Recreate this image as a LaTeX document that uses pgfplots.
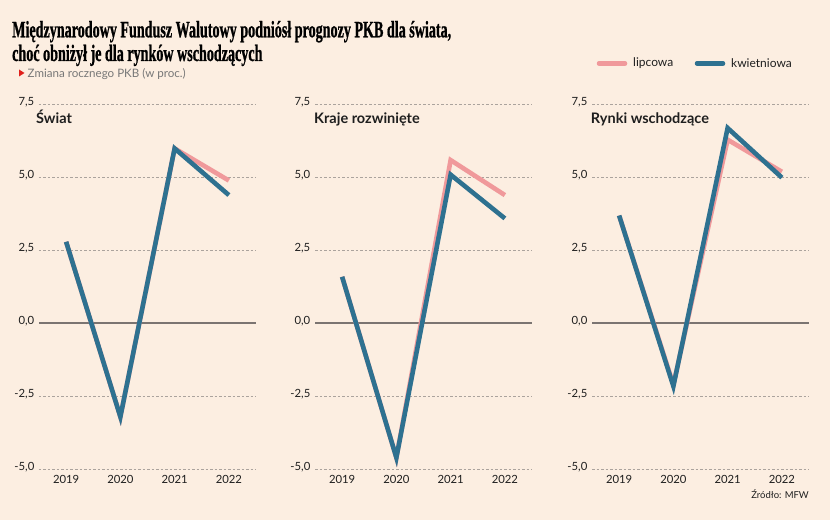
\documentclass[border=0pt]{standalone}
\usepackage{fontspec}
\setmainfont{Lato}
\newfontfamily\titlefont[FakeStretch=0.6, BoldFeatures={FakeBold=0.8}]{Liberation Serif}
\usepackage{pgfplots}
\pgfplotsset{compat=1.18}
\definecolor{bg}{HTML}{FCEEE1}
\definecolor{bluec}{HTML}{2E7190}
\definecolor{pinkc}{HTML}{F0999B}
\definecolor{zeroc}{HTML}{7B7471}
\definecolor{gridc}{HTML}{ABA39D}
\definecolor{txt}{HTML}{1E1E1E}
\definecolor{subc}{HTML}{777777}
\definecolor{tri}{HTML}{E0201B}
\pgfplotsset{panel/.style={
  scale only axis, width=217pt, height=364.6pt,
  anchor=south west,
  xmin=2018.5, xmax=2022.5, ymin=-5, ymax=7.5,
  xtick={2019,2020,2021,2022}, xticklabels={2019,2020,2021,2022},
  ytick={-5,-2.5,2.5,5,7.5}, extra y ticks={0},
  yticklabel={\pgfmathprintnumber[fixed,fixed zerofill,precision=1,use comma,assume math mode=true]{\tick}},
  axis line style={draw=none}, major tick length=0pt,
  ymajorgrids, grid style={gridc, line width=0.6pt, dash pattern=on 2.5pt off 2pt},
  extra y tick style={grid style={solid, zeroc, line width=2pt}},
  ticklabel style={font=\fontsize{11.3}{12}\selectfont, text=txt},
  xticklabel style={inner sep=0pt, yshift=-5.5pt},
  yticklabel style={inner sep=0pt, xshift=-4.5pt, yshift=2pt},
  clip=false,
  every axis plot/.append style={line width=4.6pt, line join=miter, mark=none},
}}
\begin{document}
\begin{tikzpicture}
\fill[bg] (0pt,0pt) rectangle (830pt,520pt);
% titles
\node[anchor=base west, inner sep=0pt, text=black, font=\titlefont\bfseries\fontsize{23.5}{24}\selectfont] at (12pt,482.7pt) {Międzynarodowy Fundusz Walutowy podniósł prognozy PKB dla świata,};
\node[anchor=base west, inner sep=0pt, text=black, font=\titlefont\bfseries\fontsize{23.5}{24}\selectfont] at (12pt,459pt) {choć obniżył je dla rynków wschodzących};
\fill[tri] (19pt,450.5pt) -- (24.5pt,447pt) -- (19pt,443.5pt) -- cycle;
\node[anchor=base west, inner sep=0pt, text=subc, font=\fontsize{11.6}{13}\selectfont] at (27.5pt,442pt) {Zmiana rocznego PKB (w proc.)};
% legend
\draw[pinkc, line width=4.5pt, line cap=round] (599pt,456.5pt) -- (625pt,456.5pt);
\node[anchor=west, inner sep=0pt, text=txt, font=\fontsize{12}{13}\selectfont] at (633pt,456.5pt) {lipcowa};
\draw[bluec, line width=4.5pt, line cap=round] (697pt,456.5pt) -- (723pt,456.5pt);
\node[anchor=west, inner sep=0pt, text=txt, font=\fontsize{12}{13}\selectfont] at (731pt,456.5pt) {kwietniowa};

\begin{axis}[panel, at={(39pt,50.7pt)}]
\addplot[pinkc] coordinates {(2019,2.8) (2020,-3.2) (2021,6.0) (2022,4.9)};
\addplot[bluec] coordinates {(2019,2.8) (2020,-3.2) (2021,6.0) (2022,4.4)};
\end{axis}
\begin{axis}[panel, at={(315pt,50.7pt)}]
\addplot[pinkc] coordinates {(2019,1.6) (2020,-4.6) (2021,5.6) (2022,4.4)};
\addplot[bluec] coordinates {(2019,1.6) (2020,-4.6) (2021,5.1) (2022,3.6)};
\end{axis}
\begin{axis}[panel, at={(592pt,50.7pt)}]
\addplot[pinkc] coordinates {(2019,3.7) (2020,-2.1) (2021,6.3) (2022,5.2)};
\addplot[bluec] coordinates {(2019,3.7) (2020,-2.15) (2021,6.7) (2022,5.0)};
\end{axis}
\node[anchor=base west, inner sep=0pt, text=txt, font=\bfseries\fontsize{14.5}{16}\selectfont] at (36pt,396.3pt) {Świat};
\node[anchor=base west, inner sep=0pt, text=txt, font=\bfseries\fontsize{14.5}{16}\selectfont] at (314pt,396.3pt) {Kraje rozwinięte};
\node[anchor=base west, inner sep=0pt, text=txt, font=\bfseries\fontsize{14.5}{16}\selectfont] at (590.7pt,396.3pt) {Rynki wschodzące};
\node[anchor=base east, inner sep=0pt, text=txt, font=\fontsize{9.5}{11}\selectfont] at (809pt,21.7pt) {Źródło: MFW};
\end{tikzpicture}
\end{document}
